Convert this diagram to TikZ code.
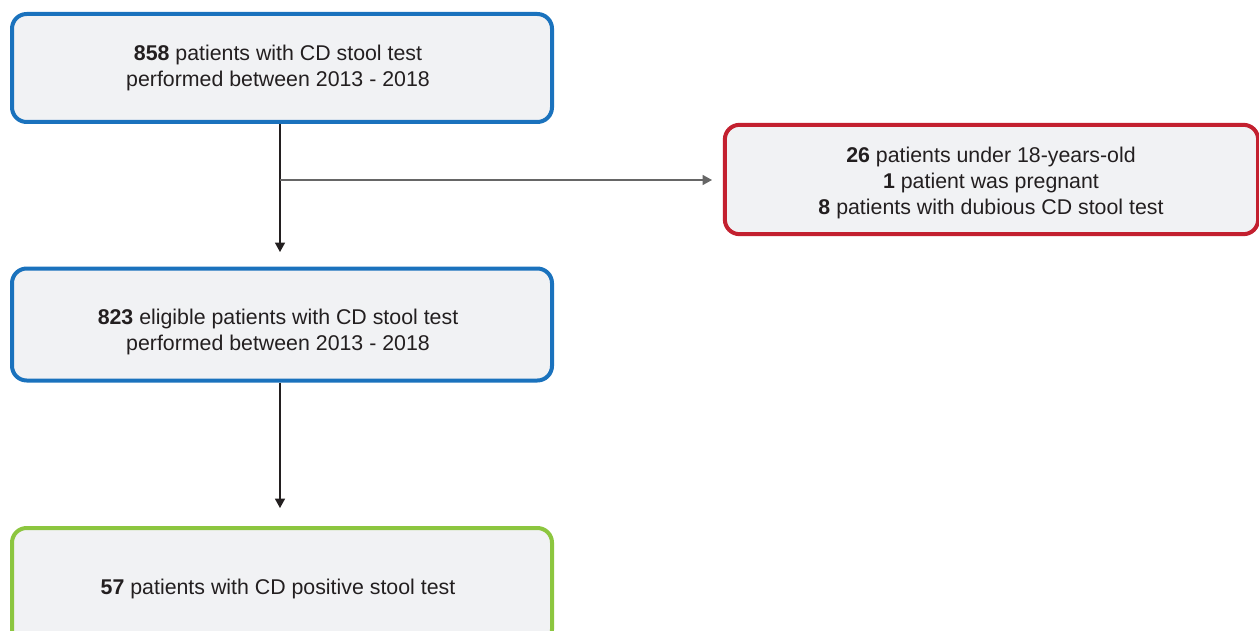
\documentclass[tikz,border=0pt]{standalone}
\usepackage{fontspec}
\setmainfont{Liberation Sans}
\usetikzlibrary{arrows.meta}
\definecolor{bblue}{HTML}{1A72BD}
\definecolor{bred}{HTML}{C3202F}
\definecolor{bgreen}{HTML}{8CC63F}
\definecolor{bfill}{HTML}{F1F2F4}
\definecolor{txt}{HTML}{231F20}
\tikzset{
  flowbox/.style={draw, line width=3pt, rounded corners=11pt, fill=bfill,
    minimum width=405pt, minimum height=81pt, inner sep=0pt},
  flowtext/.style={align=center, text=txt, inner sep=0pt,
    font=\fontsize{16}{19.5}\selectfont},
  arr/.style={line width=0.9pt, draw=txt, -{Triangle[length=7pt,width=7.5pt]}},
}
\begin{document}
\begin{tikzpicture}[x=0.75pt,y=-0.75pt]
\useasboundingbox (0,0) rectangle (1259,631);
\node[flowbox, draw=bblue] (b1) at (282,68) {};
\node[flowbox, draw=bred, minimum width=400pt, minimum height=82pt] (b2) at (991.5,179.5) {};
\node[flowbox, draw=bblue, minimum height=84pt] (b3) at (282,324.5) {};
\node[flowbox, draw=bgreen, minimum height=87pt] (b4) at (282,586) {};
\node[flowtext] (t1txt) at (278,67.5) {\textbf{858} patients with CD stool test\\performed between 2013 - 2018};
\node[flowtext] (t2txt) at (991,183) {\textbf{26} patients under 18-years-old\\\textbf{1} patient was pregnant\\\textbf{8} patients with dubious CD stool test};
\node[flowtext] (t3txt) at (278,331.5) {\textbf{823} eligible patients with CD stool test\\performed between 2013 - 2018};
\node[flowtext] (t4txt) at (278,589) {\textbf{57} patients with CD positive stool test};
\coordinate (t1) at (280,252);
\coordinate (br) at (280,180);
\coordinate (t2) at (280,508);
\coordinate (t3) at (712,180);
\draw[arr] (b1.south -| t1) -- (t1);
\draw[arr, draw=gray!80!black] (br) -- (t3);
\draw[arr] (b3.south -| t2) -- (t2);
\end{tikzpicture}
\end{document}
